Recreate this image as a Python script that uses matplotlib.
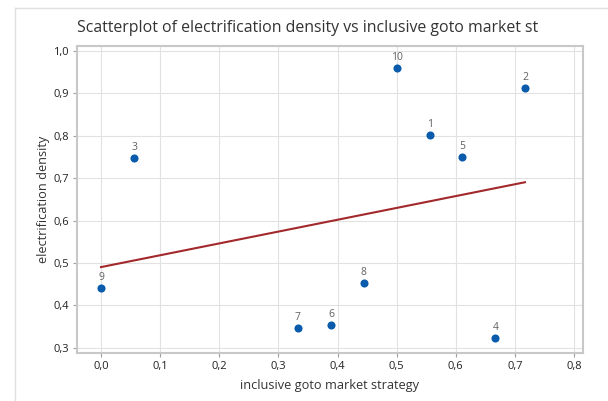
import numpy as np
import matplotlib
matplotlib.use('Agg')
import matplotlib.pyplot as plt
from matplotlib.ticker import FuncFormatter, MultipleLocator
from matplotlib.lines import Line2D

# data
point_labels = ['1', '2', '3', '4', '5', '6', '7', '8', '9', '10']
strategy = [0.556, 0.717, 0.056, 0.667, 0.611, 0.389, 0.333, 0.444, 0.0, 0.5]
density = [0.802, 0.912, 0.748, 0.324, 0.750, 0.355, 0.348, 0.454, 0.442, 0.959]

title = 'Scatterplot of electrification density vs inclusive goto market st'
x_label = 'inclusive goto market strategy'
y_label = 'electrification density'

plt.rcParams['font.family'] = ['Open Sans', 'DejaVu Sans']

fig = plt.figure(figsize=(6.08, 4.01), dpi=100)
ax = fig.add_axes([77 / 608, 48 / 401, 506 / 608, 307 / 401])

# faint panel frame on the left and top of the figure
fig.add_artist(Line2D([15 / 608, 15 / 608], [0, 393 / 401], transform=fig.transFigure,
                      color='#e0e0e0', lw=1))
fig.add_artist(Line2D([15 / 608, 1], [393 / 401, 393 / 401], transform=fig.transFigure,
                      color='#e0e0e0', lw=1))

x = np.array(strategy)
y = np.array(density)
slope, icpt = np.polyfit(x, y, 1)
xs = np.array([x.min(), x.max()])
ax.plot(xs, icpt + slope * xs, color='#a3282c', lw=1.5, zorder=2)

ax.scatter(x, y, s=34, color='#0a5bab', zorder=3, linewidths=0)
for lab, xi, yi in zip(point_labels, x, y):
    ax.annotate(lab, (xi, yi), xytext=(0, 3.5), textcoords='offset points',
                ha='center', va='bottom', fontsize=7.5, color='#606060')

ax.set_xlim(-0.0406, 0.8152)
ax.set_ylim(0.288, 1.011)
ax.xaxis.set_major_locator(MultipleLocator(0.1))
ax.yaxis.set_major_locator(MultipleLocator(0.1))
fmt = FuncFormatter(lambda v, p: ('%.1f' % v).replace('.', ','))
ax.xaxis.set_major_formatter(fmt)
ax.yaxis.set_major_formatter(fmt)

ax.grid(True, color='#e2e2e2', lw=0.8)
ax.set_axisbelow(True)
for s in ax.spines.values():
    s.set_color('#c8c8c8')
    s.set_linewidth(1.5)
ax.tick_params(direction='out', length=3, width=0.8, color='#a0a0a0',
               labelsize=8, labelcolor='#222222', pad=3)

ax.set_xlabel(x_label, fontsize=9.2, color='#333333', labelpad=5)
ax.set_ylabel(y_label, fontsize=9.2, color='#333333', labelpad=2)
fig.text(308 / 608, 1 - 28 / 401, title, ha='center', va='center',
         fontsize=11.4, color='#333333')

fig.savefig('out.png', dpi=100)
